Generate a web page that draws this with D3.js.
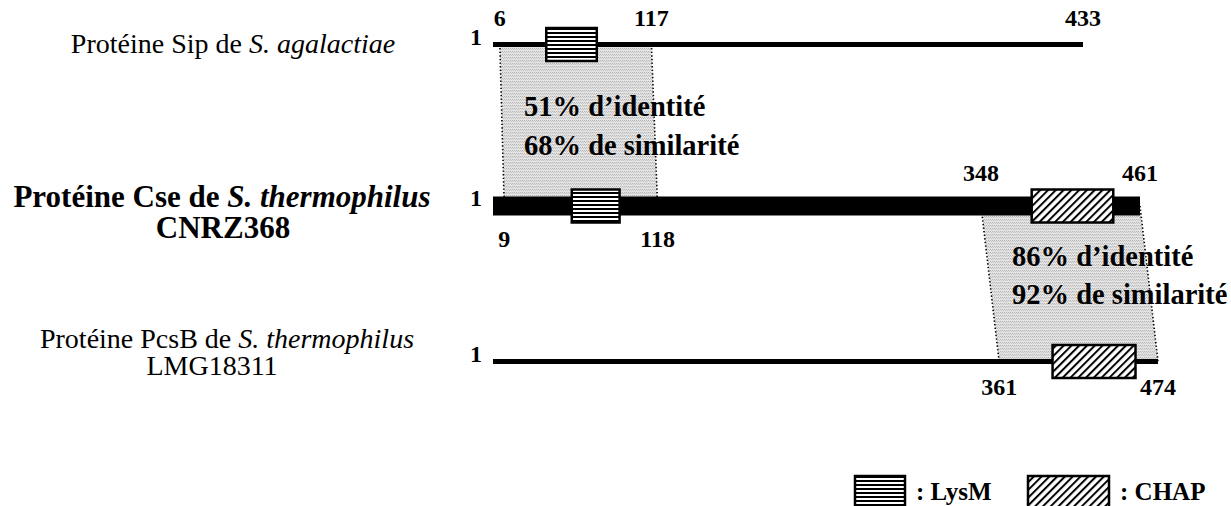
<!DOCTYPE html>
<html>
<head>
<meta charset="utf-8">
<script src="https://cdn.jsdelivr.net/npm/d3@7"></script>
<style>
  html, body { margin: 0; padding: 0; background: #fff; }
  svg { display: block; }
  text { font-family: "Liberation Serif", "Times New Roman", serif; fill: #000; }
</style>
</head>
<body>
<svg id="chart" width="1231" height="506"></svg>
<script>
// ---------------- DATA ----------------
const proteinNames   = ["Sip", "Cse", "PcsB"];
const proteinLengths = [433, 461, 474];
const lysmRanges     = [[40, 77], [57, 91], null];       // LysM domain (residues, estimated)
const chapRanges     = [null, [384, 442], [399, 458]];   // CHAP domain (residues, estimated)
// similarity blocks: upper protein range -> lower protein range
const simUpperRow    = [0, 1];
const simUpperRanges = [[6, 117], [348, 461]];
const simLowerRanges = [[9, 118], [361, 474]];
const identityPct    = [51, 86];
const similarityPct  = [68, 92];
// residue numbers printed on the lines
const residueLabels = [
  { row: 0, res: 6,   side: "above" }, { row: 0, res: 117, side: "above" }, { row: 0, res: 433, side: "above" },
  { row: 1, res: 348, side: "above" }, { row: 1, res: 461, side: "above" },
  { row: 1, res: 9,   side: "below" }, { row: 1, res: 118, side: "below" },
  { row: 2, res: 361, side: "below" }, { row: 2, res: 474, side: "below" }
];
const rowTitles = [
  [[["Protéine Sip de ", false], ["S. agalactiae", true]]],
  [[["Protéine Cse de ", false], ["S. thermophilus", true]], [["CNRZ368", false]]],
  [[["Protéine PcsB de ", false], ["S. thermophilus", true]], [["LMG18311", false]]]
];
const legendItems = ["LysM", "CHAP"];

// ---------------- LAYOUT ----------------
const rowY   = [44.5, 206, 361.5];
const rowH   = [5, 19, 5];
const rowX0  = 493;
const rowX1  = [1083, 1140, 1158];
const boxH   = 33;
const titleBold = [false, true, false];
const titleSize = [28, 31, 28];
const titleX = [[233], [222, 223], [227, 212]];
const titleY = [[53], [207, 238], [348, 375]];
const annotDy = [10, 1];
const annotLine = 38.5;

const svg = d3.select("#chart");
const defs = svg.append("defs");

// patterns
const pLys = defs.append("pattern").attr("id", "lysm").attr("patternUnits", "userSpaceOnUse")
  .attr("width", 6).attr("height", 4);
pLys.append("rect").attr("width", 6).attr("height", 4).attr("fill", "#fff");
pLys.append("rect").attr("y", 0).attr("width", 6).attr("height", 2).attr("fill", "#000");

const pChap = defs.append("pattern").attr("id", "chap").attr("patternUnits", "userSpaceOnUse")
  .attr("width", 5.5).attr("height", 10).attr("patternTransform", "rotate(45)");
pChap.append("rect").attr("width", 5.5).attr("height", 10).attr("fill", "#fff");
pChap.append("rect").attr("x", 0).attr("width", 2).attr("height", 10).attr("fill", "#000");

const pGrey = defs.append("pattern").attr("id", "grey").attr("patternUnits", "userSpaceOnUse")
  .attr("width", 2).attr("height", 3);
pGrey.append("rect").attr("width", 2).attr("height", 3).attr("fill", "#e4e4e4");
pGrey.append("rect").attr("x", 0).attr("y", 0).attr("width", 1).attr("height", 1).attr("fill", "#b4b4b4");
pGrey.append("rect").attr("x", 1).attr("y", 1).attr("width", 1).attr("height", 1).attr("fill", "#c4c4c4");

// scales
const xScales = proteinLengths.map((len, i) =>
  d3.scaleLinear().domain([1, len]).range([rowX0, rowX1[i]]));

// similarity blocks
simUpperRanges.forEach((up, k) => {
  const r0 = simUpperRow[k], r1 = r0 + 1;
  const lo = simLowerRanges[k];
  const xs0 = xScales[r0], xs1 = xScales[r1];
  const pts = [[xs0(up[0]), rowY[r0]], [xs0(up[1]), rowY[r0]], [xs1(lo[1]), rowY[r1]], [xs1(lo[0]), rowY[r1]]];
  svg.append("path").attr("d", d3.line()(pts) + "Z").attr("fill", "url(#grey)");
  [[pts[0], pts[3]], [pts[1], pts[2]]].forEach(seg => {
    svg.append("path").attr("d", d3.line()(seg)).attr("stroke", "#000")
      .attr("stroke-width", 1.6).attr("stroke-dasharray", "1.4,2.2").attr("fill", "none");
  });
});

// protein lines
proteinLengths.forEach((len, i) => {
  svg.append("rect")
    .attr("x", xScales[i](1)).attr("y", rowY[i] - rowH[i] / 2)
    .attr("width", xScales[i](len) - xScales[i](1)).attr("height", rowH[i])
    .attr("fill", "#000");
});

// domains
function drawDomains(ranges, pat) {
  ranges.forEach((r, i) => {
    if (!r) return;
    svg.append("rect")
      .attr("x", xScales[i](r[0])).attr("y", rowY[i] - boxH / 2)
      .attr("width", xScales[i](r[1]) - xScales[i](r[0])).attr("height", boxH)
      .attr("fill", `url(#${pat})`).attr("stroke", "#000").attr("stroke-width", 2.5);
  });
}
drawDomains(lysmRanges, "lysm");
drawDomains(chapRanges, "chap");

// "1" start labels
proteinLengths.forEach((len, i) => {
  svg.append("text").attr("x", xScales[i](1) - 11).attr("y", rowY[i])
    .attr("text-anchor", "end").attr("font-weight", "bold").attr("font-size", 24).text("1");
});

// residue labels
residueLabels.forEach(d => {
  const y = d.side === "above" ? rowY[d.row] - rowH[d.row] / 2 - 16
                               : rowY[d.row] + rowH[d.row] / 2 + 31;
  svg.append("text").attr("x", xScales[d.row](d.res)).attr("y", y)
    .attr("text-anchor", "middle").attr("font-weight", "bold").attr("font-size", 24).text(d.res);
});

// identity / similarity annotations
simUpperRanges.forEach((up, k) => {
  const r0 = simUpperRow[k], r1 = r0 + 1;
  const lo = simLowerRanges[k];
  const xl = (xScales[r0](up[0]) + xScales[r1](lo[0])) / 2 + 22;
  const ym = (rowY[r0] + rowY[r1]) / 2 + annotDy[k];
  const g = svg.append("text").attr("font-weight", "bold").attr("font-size", 28.5);
  g.append("tspan").attr("x", xl).attr("y", ym - annotLine / 2).text(`${identityPct[k]}% d’identité`);
  g.append("tspan").attr("x", xl).attr("y", ym + annotLine / 2).text(`${similarityPct[k]}% de similarité`);
});

// row titles
rowTitles.forEach((lines, i) => {
  lines.forEach((parts, j) => {
    const t = svg.append("text").attr("x", titleX[i][j]).attr("y", titleY[i][j])
      .attr("text-anchor", "middle").attr("font-size", titleSize[i])
      .attr("font-weight", titleBold[i] ? "bold" : "normal");
    parts.forEach(p => t.append("tspan").attr("font-style", p[1] ? "italic" : "normal").text(p[0]));
  });
});

// legend
const legendX = [855, 1028];
const legendW = [50, 81];
legendItems.forEach((name, k) => {
  svg.append("rect").attr("x", legendX[k]).attr("y", 476).attr("width", legendW[k]).attr("height", boxH)
    .attr("fill", `url(#${k === 0 ? "lysm" : "chap"})`).attr("stroke", "#000").attr("stroke-width", 2.5);
  svg.append("text").attr("x", legendX[k] + legendW[k] + 11).attr("y", 500)
    .attr("font-weight", "bold").attr("font-size", 25).text(`: ${name}`);
});
</script>
</body>
</html>
